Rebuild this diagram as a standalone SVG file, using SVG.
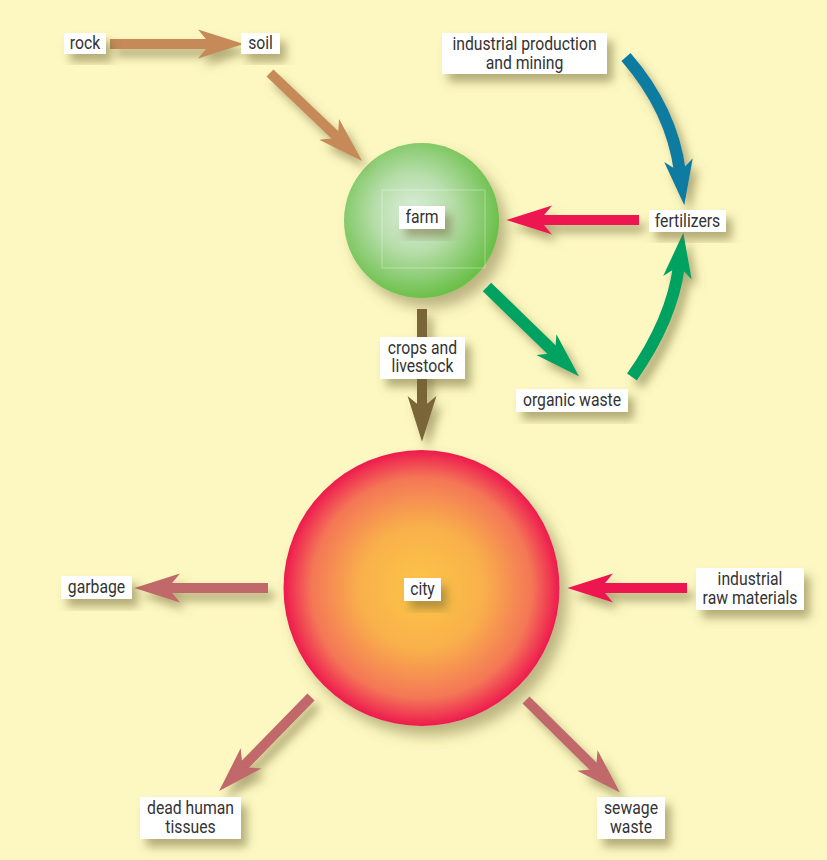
<svg xmlns="http://www.w3.org/2000/svg" width="827" height="860" viewBox="0 0 827 860">
<defs>
<style>
.lbl{fill:#ffffff}
.t{font-family:Roboto,"Liberation Sans",sans-serif;font-size:17.5px;fill:#333333;text-anchor:middle}
.a{fill:none;stroke-linecap:butt}
</style>
<filter id="sh" x="-50%" y="-50%" width="200%" height="200%">
<feDropShadow dx="6" dy="8" stdDeviation="5" flood-color="#6b6230" flood-opacity="0.5"/>
</filter>
<filter id="shc" x="-30%" y="-30%" width="160%" height="160%">
<feDropShadow dx="8" dy="10" stdDeviation="7" flood-color="#6b6230" flood-opacity="0.45"/>
</filter>
<radialGradient id="gFarm" cx="0.45" cy="0.45" r="0.55">
<stop offset="0" stop-color="#DDEEDC"/>
<stop offset="0.45" stop-color="#B8DEAC"/>
<stop offset="1" stop-color="#6CC04A"/>
</radialGradient>
<radialGradient id="gCity" cx="0.5" cy="0.5" r="0.5">
<stop offset="0" stop-color="#FCC646"/>
<stop offset="0.45" stop-color="#F9B04C"/>
<stop offset="0.8" stop-color="#F47656"/>
<stop offset="1" stop-color="#EE1A4F"/>
</radialGradient>
<marker id="mBrown" markerUnits="userSpaceOnUse" markerWidth="60" markerHeight="40" viewBox="-15 -15 50 30" refX="0" refY="0" orient="auto" overflow="visible"><path d="M28,0 L-10,-12 L0,0 L-10,12 Z" fill="#C68A58"/></marker>
<marker id="mBlue" markerUnits="userSpaceOnUse" markerWidth="60" markerHeight="40" viewBox="-15 -15 50 30" refX="0" refY="0" orient="auto" overflow="visible"><path d="M28,0 L-10,-12 L0,0 L-10,12 Z" fill="#0B7CA0"/></marker>
<marker id="mRed" markerUnits="userSpaceOnUse" markerWidth="60" markerHeight="40" viewBox="-15 -15 50 30" refX="0" refY="0" orient="auto" overflow="visible"><path d="M28,0 L-10,-12 L0,0 L-10,12 Z" fill="#EE1651"/></marker>
<marker id="mGreen" markerUnits="userSpaceOnUse" markerWidth="60" markerHeight="40" viewBox="-15 -15 50 30" refX="0" refY="0" orient="auto" overflow="visible"><path d="M28,0 L-10,-12 L0,0 L-10,12 Z" fill="#00A262"/></marker>
<marker id="mDark" markerUnits="userSpaceOnUse" markerWidth="60" markerHeight="40" viewBox="-15 -15 50 30" refX="0" refY="0" orient="auto" overflow="visible"><path d="M28,0 L-10,-12 L0,0 L-10,12 Z" fill="#7A6537"/></marker>
<marker id="mMauve" markerUnits="userSpaceOnUse" markerWidth="60" markerHeight="40" viewBox="-15 -15 50 30" refX="0" refY="0" orient="auto" overflow="visible"><path d="M28,0 L-10,-12 L0,0 L-10,12 Z" fill="#C0686A"/></marker>
</defs>
<rect x="0" y="0" width="827" height="860" fill="#FDF8C1"/>

<g id="farm" filter="url(#shc)">
<circle cx="421.5" cy="220.5" r="77.5" fill="url(#gFarm)"/>
</g>
<rect x="382" y="190" width="103" height="78" fill="none" stroke="#ffffff" stroke-opacity="0.35" stroke-width="1"/>
<g id="city" filter="url(#shc)">
<circle cx="421.5" cy="588" r="138" fill="url(#gCity)"/>
</g>

<g id="connectors" filter="url(#sh)">
<path class="a" d="M110,44 L210,44" stroke="#C68A58" stroke-width="10" marker-end="url(#mBrown)"/>
<path class="a" d="M270,73 L337.8,137.7" stroke="#C68A58" stroke-width="10" marker-end="url(#mBrown)"/>
<path class="a" d="M626,57 Q672,110 680,172" stroke="#0B7CA0" stroke-width="12" marker-end="url(#mBlue)"/>
<path class="a" d="M639,220 L540,220" stroke="#EE1651" stroke-width="10" marker-end="url(#mRed)"/>
<path class="a" d="M487,287 L555,353" stroke="#00A262" stroke-width="12" marker-end="url(#mGreen)"/>
<path class="a" d="M632,377 Q672,320 679,266" stroke="#00A262" stroke-width="12" marker-end="url(#mGreen)"/>
<path class="a" d="M422,309 L422,408" stroke="#7A6537" stroke-width="10" marker-end="url(#mDark)"/>
<path class="a" d="M268,588 L168,588" stroke="#C0686A" stroke-width="10" marker-end="url(#mMauve)"/>
<path class="a" d="M687,588 L601,588" stroke="#EE1651" stroke-width="10" marker-end="url(#mRed)"/>
<path class="a" d="M311,697 L242.6,767" stroke="#C0686A" stroke-width="10" marker-end="url(#mMauve)"/>
<path class="a" d="M526,700 L596,769" stroke="#C0686A" stroke-width="10" marker-end="url(#mMauve)"/>
</g>

<g id="n-rock"><rect class="lbl" x="64" y="33" width="42" height="21" filter="url(#sh)"/><text class="t" transform="translate(85 0) scale(0.9 1)" y="49.5">rock</text></g>
<g id="n-soil"><rect class="lbl" x="241" y="33" width="39" height="21" filter="url(#sh)"/><text class="t" transform="translate(260.5 0) scale(0.9 1)" y="49.5">soil</text></g>
<g id="n-industrial"><rect class="lbl" x="442" y="33" width="165" height="41" filter="url(#sh)"/><text class="t" transform="translate(524.5 0) scale(0.9 1)" y="50">industrial production</text><text class="t" transform="translate(524.5 0) scale(0.9 1)" y="69">and mining</text></g>
<g id="n-fertilizers"><rect class="lbl" x="649" y="210" width="77" height="22" filter="url(#sh)"/><text class="t" transform="translate(687.5 0) scale(0.9 1)" y="227">fertilizers</text></g>
<g id="n-farm"><rect class="lbl" x="399" y="206" width="46" height="23" filter="url(#sh)"/><text class="t" transform="translate(422 0) scale(0.9 1)" y="223.5">farm</text></g>
<g id="n-crops"><rect class="lbl" x="380" y="337" width="85" height="42" filter="url(#sh)"/><text class="t" transform="translate(422.5 0) scale(0.9 1)" y="354">crops and</text><text class="t" transform="translate(422.5 0) scale(0.9 1)" y="372.5">livestock</text></g>
<g id="n-organic"><rect class="lbl" x="516" y="389" width="112" height="23" filter="url(#sh)"/><text class="t" transform="translate(572 0) scale(0.9 1)" y="406">organic waste</text></g>
<g id="n-city"><rect class="lbl" x="404" y="578" width="37" height="23" filter="url(#sh)"/><text class="t" transform="translate(422.5 0) scale(0.9 1)" y="595">city</text></g>
<g id="n-garbage"><rect class="lbl" x="61" y="576" width="71" height="23" filter="url(#sh)"/><text class="t" transform="translate(96.5 0) scale(0.9 1)" y="593">garbage</text></g>
<g id="n-raw"><rect class="lbl" x="696" y="568" width="108" height="42" filter="url(#sh)"/><text class="t" transform="translate(750 0) scale(0.9 1)" y="585.5">industrial</text><text class="t" transform="translate(750 0) scale(0.9 1)" y="604">raw materials</text></g>
<g id="n-dead"><rect class="lbl" x="140" y="797" width="101" height="42" filter="url(#sh)"/><text class="t" transform="translate(190.5 0) scale(0.9 1)" y="814.5">dead human</text><text class="t" transform="translate(190.5 0) scale(0.9 1)" y="833">tissues</text></g>
<g id="n-sewage"><rect class="lbl" x="597" y="797" width="68" height="42" filter="url(#sh)"/><text class="t" transform="translate(631 0) scale(0.9 1)" y="814.5">sewage</text><text class="t" transform="translate(631 0) scale(0.9 1)" y="833">waste</text></g>
</svg>
